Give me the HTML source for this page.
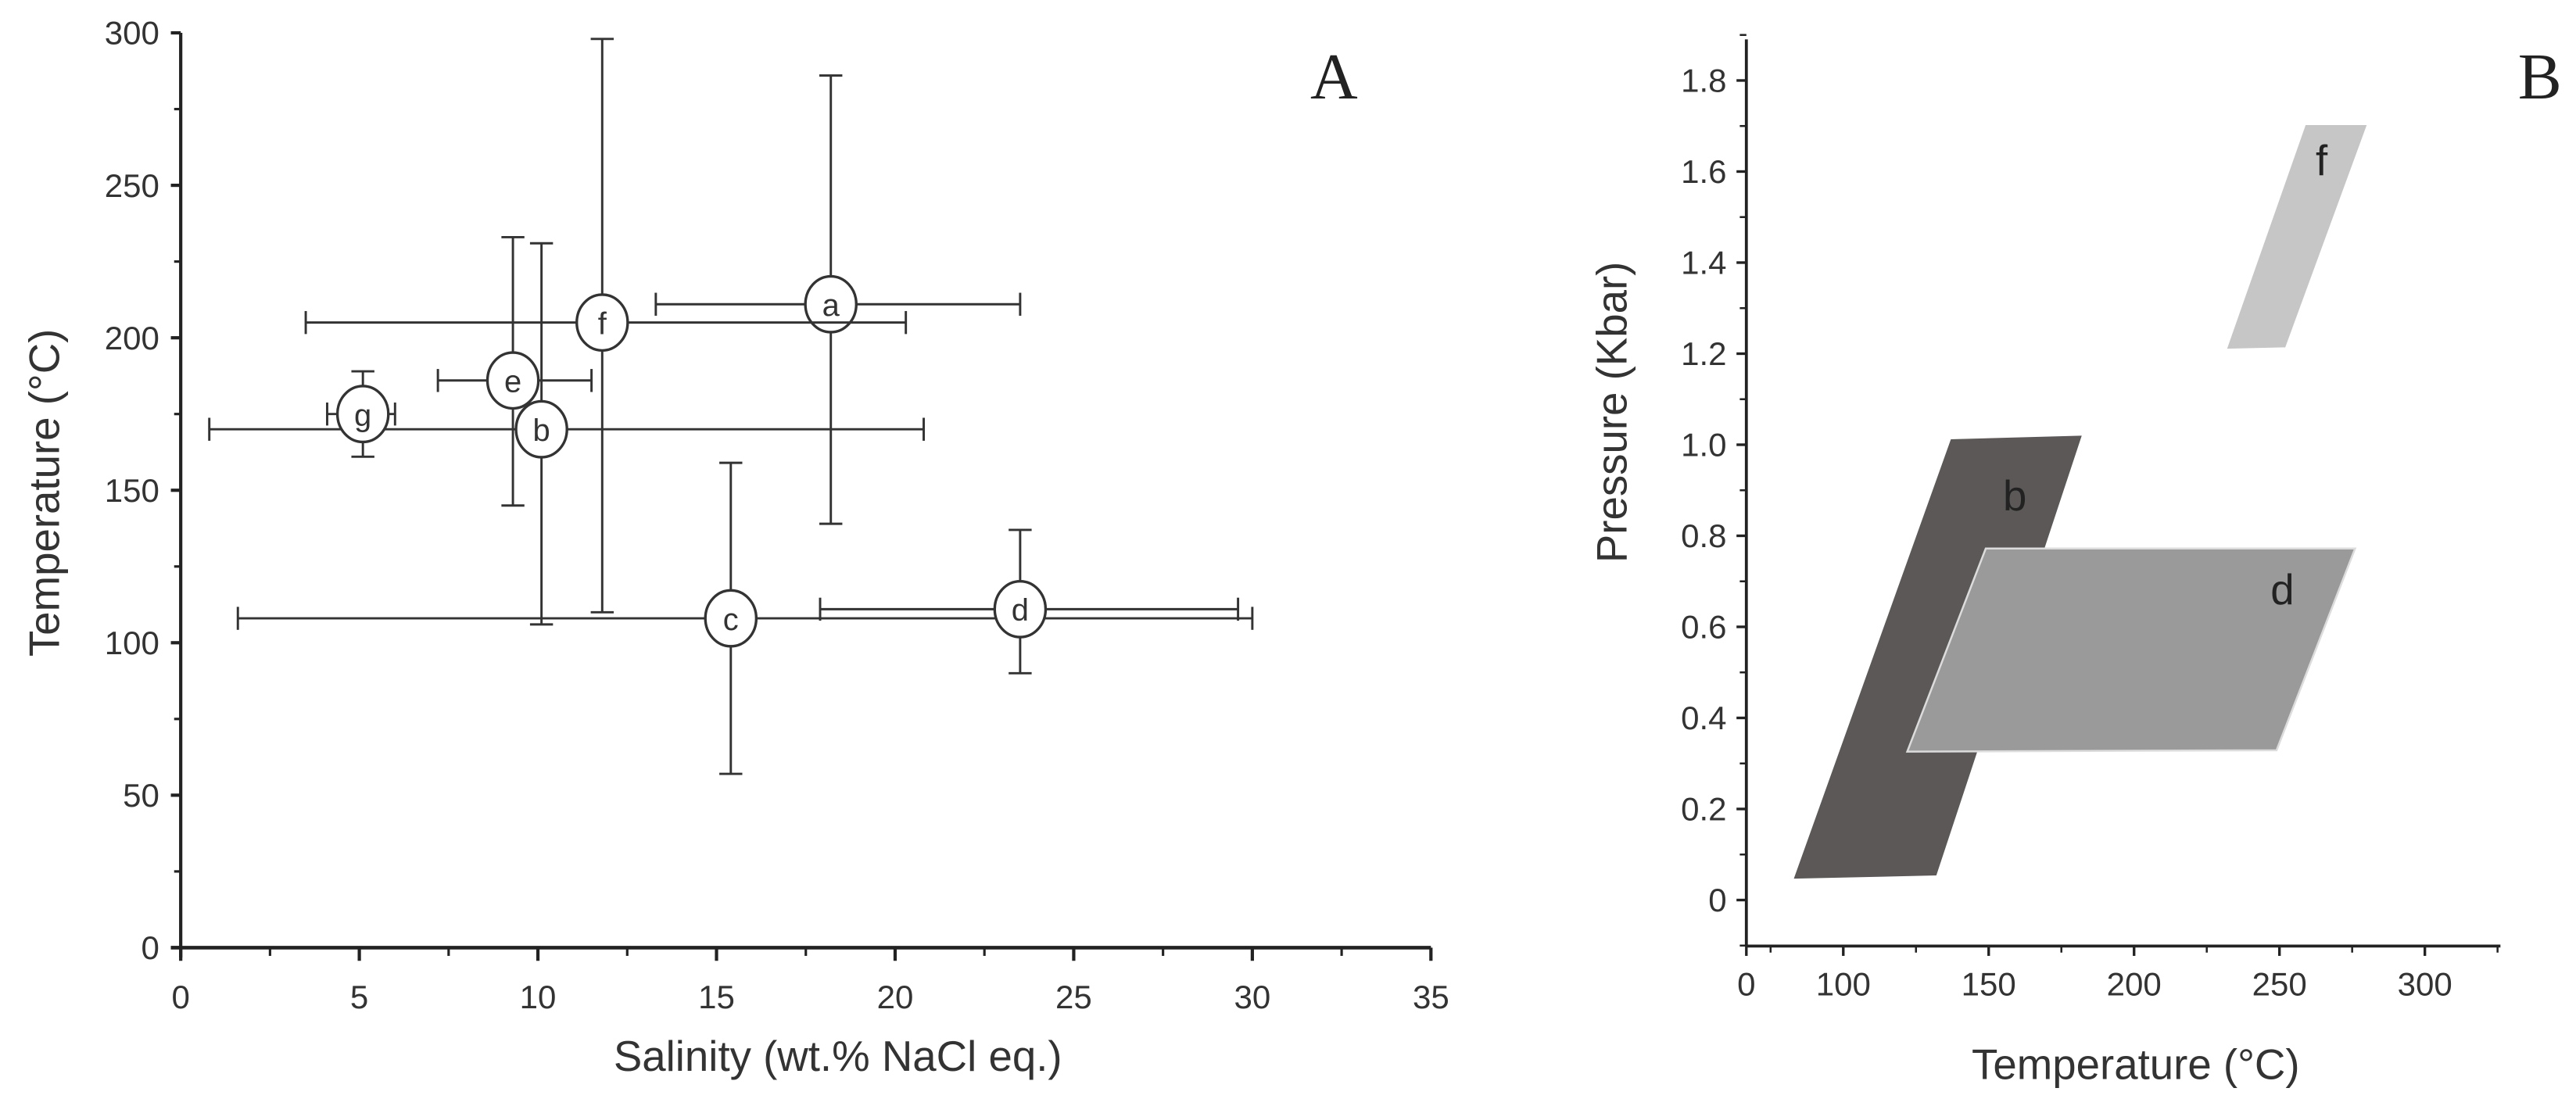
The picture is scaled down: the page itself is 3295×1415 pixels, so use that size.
<!DOCTYPE html>
<html><head><meta charset="utf-8"><style>
html,body{margin:0;padding:0;background:#fff;}
svg{display:block;}
text{font-family:"Liberation Sans",sans-serif;}
text.serif{font-family:"Liberation Serif",serif;}
</style></head><body>
<svg id="fig" width="3295" height="1415" viewBox="0 0 1568 673.4" preserveAspectRatio="none" xmlns="http://www.w3.org/2000/svg">
<g id="panelA"></g>
<g id="panelB"></g>
</svg>
<script>
// ---- Panel A data ----
const aLabels = ['a','b','c','d','e','f','g'];
const aSal    = [18.2, 10.1, 15.4, 23.5, 9.3, 11.8, 5.1];
const aTemp   = [211, 170, 108, 111, 186, 205, 175];
const aSalLo  = [13.3, 0.8, 1.6, 17.9, 7.2, 3.5, 4.1];
const aSalHi  = [23.5, 20.8, 30.0, 29.6, 11.5, 20.3, 6.0];
const aTempLo = [139, 106, 57, 90, 145, 110, 161];
const aTempHi = [286, 231, 159, 137, 233, 298, 189];
const aXTicks = [0,5,10,15,20,25,30,35];
const aYTicks = [0,50,100,150,200,250,300];
// ---- Panel B data ----
const bRegions = ['b','d','f'];
const bTempPts = [[83,132,182,137],[122,249,276,149],[232,252,280,259]];
const bPresPts = [[0.047,0.054,1.02,1.012],[0.326,0.329,0.772,0.772],[1.211,1.214,1.702,1.702]];
const bFill = ['#5b5857','#9a9a9a','#c6c6c6'];
const bLabelT = [159, 251, 264.5];
const bLabelP = [0.888, 0.682, 1.625];
const bXTicks = [100,150,200,250,300];
const bXTickLabels = ['100','150','200','250','300'];
const bYTicks = [0,0.2,0.4,0.6,0.8,1.0,1.2,1.4,1.6,1.8];
const bYTickLabels = ['0','0.2','0.4','0.6','0.8','1.0','1.2','1.4','1.6','1.8'];

const NS='http://www.w3.org/2000/svg';
function mk(parent, tag, attrs, txt){
  const e=document.createElementNS(NS,tag);
  for(const k in attrs) e.setAttribute(k,attrs[k]);
  if(txt!==undefined) e.textContent=txt;
  parent.appendChild(e); return e;
}
// Panel A axes
const A=document.getElementById('panelA');
const ax = v => 110 + v*(871-110)/35;
const ay = v => 577 - v*(577-20)/300;
let l=mk(A,'line',{x1:110,y1:20,x2:110,y2:583,stroke:'#222','stroke-width':2});
 
l=mk(A,'line',{x1:104,y1:577,x2:871,y2:577,stroke:'#222','stroke-width':2.2});
 
aYTicks.forEach((v,i)=>{
  mk(A,'line',{x1:104,y1:ay(v),x2:110,y2:ay(v),stroke:'#222','stroke-width':2});
  if(i<aYTicks.length-1) mk(A,'line',{x1:106,y1:ay(v+25),x2:110,y2:ay(v+25),stroke:'#222','stroke-width':1.5});
  const t=mk(A,'text',{x:97,y:ay(v)+7,'text-anchor':'end','font-size':20,fill:'#333'},String(v));
   
});
aXTicks.forEach((v,i)=>{
  mk(A,'line',{x1:ax(v),y1:577,x2:ax(v),y2:585,stroke:'#222','stroke-width':2});
  if(i<aXTicks.length-1) mk(A,'line',{x1:ax(v+2.5),y1:577,x2:ax(v+2.5),y2:582,stroke:'#222','stroke-width':1.5});
  const t=mk(A,'text',{x:ax(v),y:614,'text-anchor':'middle','font-size':20,fill:'#333'},String(v));
   
});
let t=mk(A,'text',{x:0,y:0,transform:'translate(36,300) rotate(-90)','text-anchor':'middle','font-size':26,fill:'#333'},'Temperature (°C)');
 
t=mk(A,'text',{x:510,y:652,'text-anchor':'middle','font-size':26,fill:'#333'},'Salinity (wt.% NaCl eq.)');
 
t=mk(A,'text',{x:812,y:60,'text-anchor':'middle','font-size':40,fill:'#222','class':'serif'},'A');
 
aLabels.forEach((lab,i)=>{
  const g=mk(A,'g',{});
  
  
  const st={stroke:'#333','stroke-width':1.4,fill:'none'};
  const y=ay(aTemp[i]), x=ax(aSal[i]);
  mk(g,'line',Object.assign({x1:ax(aSalLo[i]),y1:y,x2:ax(aSalHi[i]),y2:y},st));
  mk(g,'line',Object.assign({x1:ax(aSalLo[i]),y1:y-7,x2:ax(aSalLo[i]),y2:y+7},st));
  mk(g,'line',Object.assign({x1:ax(aSalHi[i]),y1:y-7,x2:ax(aSalHi[i]),y2:y+7},st));
  mk(g,'line',Object.assign({x1:x,y1:ay(aTempLo[i]),x2:x,y2:ay(aTempHi[i])},st));
  mk(g,'line',Object.assign({x1:x-7,y1:ay(aTempLo[i]),x2:x+7,y2:ay(aTempLo[i])},st));
  mk(g,'line',Object.assign({x1:x-7,y1:ay(aTempHi[i]),x2:x+7,y2:ay(aTempHi[i])},st));
  mk(g,'ellipse',{cx:x,cy:y,rx:15.5,ry:17,fill:'#fff',stroke:'#333','stroke-width':1.6});
  mk(g,'text',{x:x,y:y+7,'text-anchor':'middle','font-size':19,fill:'#333'},lab);
});
// Panel B
const B=document.getElementById('panelB');
const bx = v => 1122 + (v-100)*(88.5/50);
const by = v => 548 - v*(548-49)/1.8;
const bx0 = 1063, byBot = 576;
l=mk(B,'line',{x1:bx0,y1:24,x2:bx0,y2:byBot,stroke:'#222','stroke-width':1.8});
 
l=mk(B,'line',{x1:bx0,y1:byBot,x2:1522,y2:byBot,stroke:'#222','stroke-width':1.8});
 
bYTicks.forEach((v,i)=>{
  mk(B,'line',{x1:bx0-6,y1:by(v),x2:bx0,y2:by(v),stroke:'#222','stroke-width':1.6});
  mk(B,'line',{x1:bx0-4,y1:by(v+0.1),x2:bx0,y2:by(v+0.1),stroke:'#222','stroke-width':1.2});
  if(i===0) mk(B,'line',{x1:bx0-4,y1:by(-0.1),x2:bx0,y2:by(-0.1),stroke:'#222','stroke-width':1.2});
  const t=mk(B,'text',{x:bx0-12,y:by(v)+7,'text-anchor':'end','font-size':20,fill:'#333'},bYTickLabels[i]);
   
});
mk(B,'line',{x1:bx0,y1:byBot,x2:bx0,y2:byBot+6,stroke:'#222','stroke-width':1.6});
t=mk(B,'text',{x:bx0,y:byBot+30,'text-anchor':'middle','font-size':20,fill:'#333'},'0');
 
mk(B,'line',{x1:bx(75),y1:byBot,x2:bx(75),y2:byBot+4,stroke:'#222','stroke-width':1.2});
bXTicks.forEach((v,i)=>{
  mk(B,'line',{x1:bx(v),y1:byBot,x2:bx(v),y2:byBot+6,stroke:'#222','stroke-width':1.6});
  mk(B,'line',{x1:bx(v+25),y1:byBot,x2:bx(v+25),y2:byBot+4,stroke:'#222','stroke-width':1.2});
  const t=mk(B,'text',{x:bx(v),y:byBot+30,'text-anchor':'middle','font-size':20,fill:'#333'},bXTickLabels[i]);
   
});
t=mk(B,'text',{x:0,y:0,transform:'translate(990,251) rotate(-90)','text-anchor':'middle','font-size':26,fill:'#333'},'Pressure (Kbar)');
 
t=mk(B,'text',{x:1300,y:657,'text-anchor':'middle','font-size':26,fill:'#333'},'Temperature (°C)');
 
t=mk(B,'text',{x:1546,y:60,'text-anchor':'middle','font-size':40,fill:'#222','class':'serif'},'B');
 
bRegions.forEach((r,i)=>{
  const pts=bTempPts[i].map((tv,j)=>bx(tv)+','+by(bPresPts[i][j])).join(' ');
  const p=mk(B,'polygon',{points:pts,fill:bFill[i],stroke:i===1?'#dcdcdc':'none','stroke-width':1.2});
  
  
});
bRegions.forEach((r,i)=>{
  const t=mk(B,'text',{x:bx(bLabelT[i]),y:by(bLabelP[i])+9,'text-anchor':'middle','font-size':26,fill:'#222'},r);
  
  
});
</script>
</body></html>
